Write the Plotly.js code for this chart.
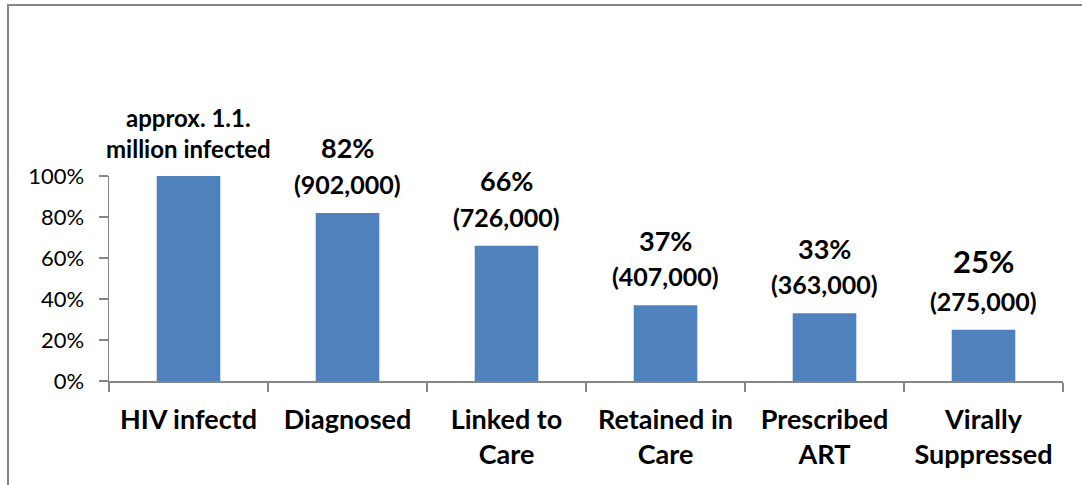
<!DOCTYPE html>
<html>
<head>
<meta charset="utf-8">
<script src="https://cdn.plot.ly/plotly-3.0.1.min.js"></script>
<style>
  html, body { margin: 0; padding: 0; background: #fff; }
  #wrap { position: relative; width: 1082px; height: 485px; overflow: hidden; }
  #chart { width: 1082px; height: 485px; }
  #frame { position: absolute; left: 7px; top: 4px; width: 1100px; height: 500px;
           border-left: 2px solid #868686; border-top: 2px solid #868686; pointer-events: none; }
</style>
</head>
<body>
<div id="wrap">
  <div id="chart"></div>
  <div id="frame"></div>
</div>
<script>
// ---- data ----
const categories = ["HIV infectd", "Diagnosed", "Linked to<br>Care", "Retained in<br>Care", "Prescribed<br>ART", "Virally<br>Suppressed"];
const shares = [1.00, 0.82, 0.66, 0.37, 0.33, 0.25];
const pctLabels = ["", "82%", "66%", "37%", "33%", "25%"];
const countLabels = ["", "(902,000)", "(726,000)", "(407,000)", "(363,000)", "(275,000)"];
const totalLabel = "approx. 1.1.<br>million infected";

const FONT = "Lato, 'Open Sans', 'Liberation Sans', sans-serif";
const annotations = [];
categories.forEach((c, i) => {
  if (i === 0) {
    annotations.push({
      x: c, y: shares[i], xref: 'x', yref: 'y', text: totalLabel, showarrow: false,
      yanchor: 'bottom', yshift: 11,
      font: {family: FONT, size: 24, color: '#000', weight: 'bold'}
    });
    return;
  }
  const big = i === categories.length - 1;
  annotations.push({
    x: c, y: shares[i], xref: 'x', yref: 'y', text: countLabels[i], showarrow: false,
    yanchor: 'middle', yshift: 29,
    font: {family: FONT, size: 25, color: '#000', weight: 'bold'}
  });
  annotations.push({
    x: c, y: shares[i], xref: 'x', yref: 'y', text: pctLabels[i], showarrow: false,
    yanchor: 'middle', yshift: big ? 69 : 65,
    font: {family: FONT, size: big ? 31 : 27, color: '#000', weight: 'bold'}
  });
});

const trace = {
  type: 'bar',
  x: categories,
  y: shares,
  marker: {color: '#4F81BD'},
  hoverinfo: 'skip'
};

const layout = {
  width: 1082, height: 485,
  margin: {l: 109, r: 19, t: 176, b: 104, pad: 0},
  paper_bgcolor: '#fff', plot_bgcolor: '#fff',
  showlegend: false,
  bargap: 0.6,
  font: {family: FONT, color: '#000'},
  xaxis: {
    type: 'category', range: [-0.5, 5.5],
    showline: true, linecolor: '#868686', linewidth: 1.5,
    ticks: 'outside', tickson: 'boundaries', ticklen: 9, tickcolor: '#868686', tickwidth: 1.5,
    tickfont: {family: FONT, size: 27, color: '#000', weight: 'bold'},
    ticklabelstandoff: 14,
    showgrid: false, zeroline: false, fixedrange: true
  },
  yaxis: {
    range: [0, 1], tickvals: [0, 0.2, 0.4, 0.6, 0.8, 1.0], tickformat: '.0%',
    showline: true, linecolor: '#868686', linewidth: 1.5,
    ticks: 'outside', ticklen: 9, tickcolor: '#868686', tickwidth: 1.5,
    tickfont: {family: FONT, size: 22, color: '#000'},
    ticklabelstandoff: 10,
    showgrid: false, zeroline: false, fixedrange: true
  },
  annotations: annotations
};

Plotly.newPlot('chart', [trace], layout, {displayModeBar: false, staticPlot: true});
</script>
</body>
</html>
